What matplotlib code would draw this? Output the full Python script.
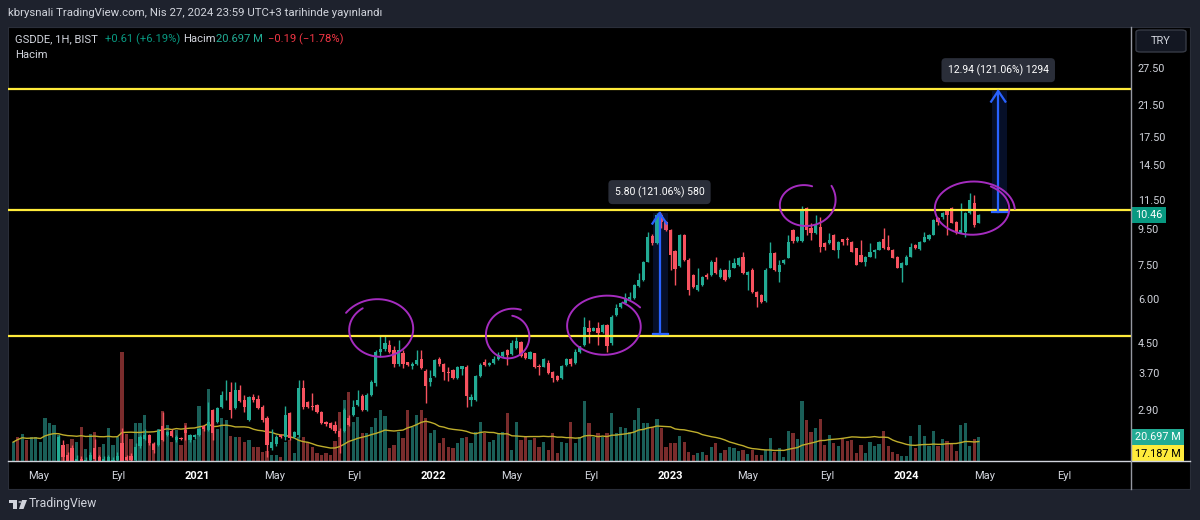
import numpy as np
import pandas as pd
import matplotlib
matplotlib.use("Agg")
import matplotlib.pyplot as plt
import matplotlib.dates as mdates
from matplotlib.patches import Rectangle, FancyBboxPatch, Circle, Polygon
from matplotlib.lines import Line2D
from matplotlib.ticker import FixedLocator, NullLocator, FuncFormatter

W, H = 1200, 520
plt.rcParams["font.family"] = ["Roboto", "DejaVu Sans"]

# ---- weekly GSDDE bars ----
first_bar = "2020-03-23"
opens = [
    1.80, 1.85, 1.78, 1.90, 1.86, 1.95, 1.98, 1.96, 1.97, 2.00,
    2.06, 2.30, 2.15, 2.25, 2.05, 2.10, 2.03, 2.08, 2.25, 2.12,
    2.06, 2.04, 2.04, 2.09, 2.33, 2.12, 2.14, 2.08, 2.28, 2.40,
    2.45, 2.32, 2.30, 2.60, 2.46, 2.52, 2.38, 2.40, 2.54, 2.38,
    2.42, 2.46, 2.60, 2.54, 2.90, 2.68, 2.96, 3.25, 3.27, 2.94,
    3.31, 3.10, 2.72, 3.15, 3.12, 2.96, 2.75, 2.26, 2.31, 2.45,
    2.42, 2.84, 2.43, 2.45, 3.35, 3.05, 2.98, 3.00, 2.86, 2.67,
    2.66, 2.62, 2.53, 2.53, 2.75, 2.81, 3.00, 3.17, 2.90, 3.20,
    3.45, 4.24, 4.32, 4.45, 4.30, 3.92, 4.22, 3.96, 3.88, 3.93,
    4.06, 3.74, 3.49, 3.62, 4.06, 3.92, 3.73, 3.77, 3.58, 3.78,
    3.85, 3.10, 3.10, 3.62, 3.96, 3.90, 3.95, 4.05, 4.13, 4.30,
    4.18, 4.35, 4.52, 4.20, 4.06, 4.20, 3.88, 3.85, 3.95, 3.72,
    3.62, 3.58, 3.90, 4.05, 3.95, 4.24, 4.45, 4.97, 4.88, 4.97,
    4.85, 5.07, 4.50, 5.40, 5.70, 5.85, 6.00, 6.05, 6.55, 6.80,
    7.68, 9.10, 8.70, 10.46, 10.00, 9.48, 8.25, 7.45, 9.17, 7.78,
    7.05, 6.39, 6.60, 7.05, 7.05, 7.68, 6.96, 7.29, 6.96, 7.38,
    7.50, 7.95, 7.05, 7.29, 6.28, 6.18, 5.95, 7.38, 8.15, 7.20,
    7.60, 7.88, 9.48, 8.80, 8.80, 10.93, 9.60, 9.30, 9.65, 8.70,
    8.70, 9.17, 8.31, 8.92, 8.92, 8.77, 8.40, 8.04, 7.68, 7.95,
    8.20, 8.31, 8.92, 8.48, 8.31, 7.95, 7.38, 7.53, 7.95, 8.59,
    8.35, 8.77, 8.90, 9.17, 10.25, 10.30, 10.81, 10.93, 10.00, 9.30,
    9.35, 10.60, 11.30, 9.93,
]
highs = [
    1.88, 1.90, 1.95, 2.00, 1.98, 2.02, 2.04, 2.05, 2.04, 2.05,
    2.46, 2.38, 2.20, 2.30, 2.15, 2.14, 2.12, 2.20, 2.40, 2.16,
    2.14, 2.16, 2.12, 2.20, 2.57, 2.15, 2.18, 2.33, 2.45, 2.55,
    2.48, 2.35, 2.56, 2.86, 2.53, 2.55, 2.45, 2.42, 2.63, 2.47,
    2.48, 2.58, 2.62, 3.05, 2.92, 2.95, 3.28, 3.53, 3.49, 3.47,
    3.42, 3.20, 3.18, 3.22, 3.20, 3.00, 2.78, 2.55, 2.45, 2.47,
    2.97, 2.86, 2.52, 3.53, 3.53, 3.08, 3.24, 3.02, 2.88, 2.70,
    2.68, 2.70, 2.58, 2.93, 2.80, 3.10, 3.31, 3.22, 3.24, 3.53,
    4.30, 4.75, 4.75, 4.60, 4.40, 4.60, 4.30, 3.98, 3.98, 4.30,
    4.30, 3.80, 3.77, 4.05, 4.10, 3.95, 3.85, 3.80, 3.88, 3.88,
    3.90, 3.22, 3.64, 3.95, 4.05, 3.98, 4.12, 4.24, 4.26, 4.33,
    4.60, 4.68, 4.55, 4.24, 4.27, 4.22, 3.92, 4.08, 4.03, 3.75,
    3.65, 3.90, 4.08, 4.08, 4.32, 4.42, 5.35, 5.24, 5.00, 5.18,
    5.10, 5.10, 5.40, 5.80, 5.90, 6.25, 6.30, 6.65, 7.12, 7.72,
    9.35, 9.25, 10.60, 10.60, 10.05, 9.55, 8.30, 9.25, 9.22, 7.85,
    7.10, 7.38, 7.00, 7.12, 7.78, 7.95, 7.35, 7.33, 7.78, 7.85,
    7.92, 8.20, 7.25, 7.35, 6.32, 6.22, 7.38, 8.77, 8.20, 7.78,
    7.82, 9.17, 9.55, 9.10, 11.05, 11.00, 9.90, 10.46, 10.30, 8.75,
    9.30, 9.22, 8.80, 8.95, 9.05, 8.80, 8.42, 8.87, 7.98, 8.70,
    8.34, 8.80, 9.60, 9.17, 8.34, 7.98, 7.65, 8.04, 8.70, 8.62,
    8.80, 9.35, 9.20, 10.15, 10.30, 10.65, 10.85, 11.00, 10.05, 11.30,
    10.65, 12.10, 11.90, 10.50,
]
lows = [
    1.72, 1.74, 1.76, 1.84, 1.83, 1.90, 1.93, 1.92, 1.92, 1.95,
    2.02, 2.05, 2.00, 2.02, 1.98, 1.97, 1.98, 2.04, 2.06, 2.02,
    2.01, 2.00, 2.00, 2.05, 2.03, 2.04, 2.04, 2.05, 2.26, 2.37,
    2.30, 2.18, 2.28, 2.36, 2.44, 2.42, 2.35, 2.37, 2.38, 2.35,
    2.40, 2.44, 2.53, 2.52, 2.38, 2.65, 2.94, 3.10, 2.75, 2.92,
    3.05, 2.85, 2.70, 3.05, 2.92, 2.68, 2.12, 2.22, 2.29, 2.41,
    2.38, 2.38, 2.41, 2.43, 2.92, 2.94, 2.90, 2.84, 2.64, 2.60,
    2.55, 2.49, 2.18, 2.50, 2.60, 2.78, 2.98, 2.88, 2.88, 3.18,
    3.40, 4.10, 4.28, 4.20, 3.85, 3.88, 3.82, 3.86, 3.80, 3.90,
    3.78, 3.04, 3.40, 3.60, 3.87, 3.53, 3.50, 3.55, 3.56, 3.65,
    2.96, 2.98, 3.08, 3.60, 3.88, 3.86, 3.92, 4.02, 4.10, 3.90,
    4.15, 4.32, 4.10, 4.05, 4.04, 3.82, 3.65, 3.83, 3.68, 3.49,
    3.50, 3.55, 3.88, 3.88, 3.93, 4.22, 4.42, 4.50, 4.86, 4.45,
    4.82, 4.24, 4.45, 5.38, 5.68, 5.83, 5.98, 6.02, 6.52, 6.78,
    7.65, 8.60, 8.65, 9.60, 9.40, 7.29, 6.60, 7.40, 7.70, 6.18,
    6.45, 6.35, 6.55, 6.85, 7.00, 7.08, 6.92, 6.78, 6.92, 7.35,
    7.45, 7.10, 6.39, 6.25, 5.72, 5.85, 5.90, 7.35, 7.25, 6.73,
    7.55, 7.85, 8.70, 8.75, 8.75, 9.17, 8.87, 9.25, 8.20, 8.31,
    8.65, 8.28, 7.88, 8.59, 8.59, 8.18, 7.50, 7.65, 7.45, 7.92,
    7.88, 8.28, 8.38, 8.28, 7.85, 7.35, 6.73, 7.50, 7.92, 8.38,
    8.32, 8.74, 8.87, 9.14, 9.79, 10.20, 9.17, 9.90, 9.25, 9.27,
    9.05, 10.55, 9.65, 9.90,
]
closes = [
    1.85, 1.78, 1.90, 1.86, 1.95, 1.98, 2.00, 2.03, 2.02, 2.03,
    2.43, 2.12, 2.05, 2.06, 2.10, 2.03, 2.08, 2.15, 2.10, 2.06,
    2.10, 2.12, 2.09, 2.14, 2.06, 2.08, 2.08, 2.27, 2.42, 2.45,
    2.33, 2.22, 2.52, 2.38, 2.50, 2.44, 2.43, 2.39, 2.49, 2.45,
    2.46, 2.56, 2.56, 2.68, 2.49, 2.93, 3.20, 3.27, 2.90, 3.31,
    3.07, 2.96, 3.15, 3.10, 2.94, 2.72, 2.30, 2.35, 2.43, 2.43,
    2.81, 2.41, 2.50, 3.35, 2.96, 2.96, 2.95, 2.86, 2.66, 2.64,
    2.58, 2.52, 2.43, 2.90, 2.63, 2.96, 3.10, 2.90, 3.20, 3.49,
    4.24, 4.32, 4.50, 4.24, 3.92, 4.30, 3.92, 3.90, 3.93, 4.03,
    3.82, 3.38, 3.58, 4.03, 3.92, 3.72, 3.70, 3.58, 3.85, 3.86,
    3.17, 3.15, 3.62, 3.90, 3.90, 3.95, 4.05, 4.16, 4.23, 4.16,
    4.50, 4.55, 4.12, 4.08, 4.24, 3.85, 3.84, 4.06, 3.70, 3.58,
    3.53, 3.87, 4.06, 3.92, 4.24, 4.40, 5.00, 4.85, 4.97, 4.80,
    5.07, 4.40, 5.35, 5.67, 5.85, 6.05, 6.10, 6.60, 6.82, 7.68,
    9.05, 8.70, 10.46, 10.00, 9.48, 8.04, 7.32, 9.17, 7.78, 6.39,
    6.50, 6.60, 6.96, 6.96, 7.68, 7.12, 7.29, 6.82, 7.29, 7.60,
    7.88, 7.12, 7.20, 6.28, 6.10, 5.90, 7.29, 8.15, 7.29, 7.53,
    7.78, 8.77, 8.80, 9.05, 10.81, 9.48, 9.30, 9.79, 8.45, 8.48,
    8.87, 8.31, 8.77, 8.77, 8.87, 8.20, 7.53, 7.68, 7.95, 8.20,
    8.31, 8.77, 8.40, 8.31, 7.88, 7.38, 7.62, 7.95, 8.48, 8.40,
    8.77, 9.05, 9.17, 10.12, 10.00, 10.60, 10.46, 9.93, 9.30, 9.48,
    10.60, 11.55, 9.79, 10.46,
]
# volume, millions
volumes = [
    16.3, 20.6, 23.2, 18.1, 20.6, 20.6, 16.3, 37.0, 32.7, 31.0,
    22.4, 11.2, 14.6, 18.9, 16.3, 29.2, 10.3, 23.2, 24.9, 12.0,
    14.6, 28.4, 13.8, 20.6, 93.7, 23.2, 18.9, 32.7, 32.7, 39.6,
    20.6, 15.5, 27.5, 43.0, 31.0, 16.3, 26.7, 13.8, 32.7, 20.6,
    18.1, 47.3, 27.5, 61.9, 43.0, 27.5, 37.0, 35.3, 21.5, 20.6,
    20.6, 16.3, 18.1, 12.0, 12.0, 7.7, 8.6, 5.2, 5.2, 3.4,
    16.3, 18.1, 6.9, 20.6, 20.6, 16.3, 12.0, 6.9, 5.2, 6.9,
    5.2, 17.2, 42.1, 52.5, 59.3, 33.5, 37.8, 24.1, 24.1, 29.2,
    37.0, 43.9, 38.7, 11.2, 13.8, 24.9, 19.8, 43.9, 29.2, 39.6,
    43.9, 37.0, 24.1, 26.7, 15.5, 19.8, 12.0, 11.2, 15.5, 19.8,
    20.6, 15.5, 24.9, 33.5, 24.1, 16.3, 18.1, 24.1, 24.9, 41.3,
    9.5, 33.5, 18.1, 20.6, 18.1, 19.8, 12.0, 16.3, 9.5, 24.1,
    6.9, 16.3, 15.5, 33.5, 15.5, 20.6, 51.6, 32.7, 20.6, 24.1,
    20.6, 24.1, 41.3, 24.1, 29.2, 28.4, 24.9, 35.3, 45.6, 32.7,
    32.7, 29.2, 36.1, 28.4, 12.0, 15.5, 15.5, 21.5, 16.3, 7.7,
    5.2, 6.9, 7.7, 5.2, 12.0, 15.5, 6.9, 9.5, 12.0, 11.2,
    8.6, 9.5, 6.0, 9.5, 5.2, 5.2, 9.5, 19.8, 7.7, 11.2,
    3.4, 25.8, 24.1, 18.9, 51.6, 35.3, 24.9, 28.4, 36.1, 13.8,
    22.4, 15.5, 12.9, 18.9, 17.2, 18.1, 6.9, 13.8, 6.9, 16.3,
    12.9, 14.6, 25.8, 12.9, 7.7, 6.0, 4.3, 4.3, 21.5, 11.2,
    31.0, 21.5, 12.9, 25.8, 12.9, 18.9, 17.2, 15.5, 8.6, 31.0,
    32.7, 12.9, 18.9, 20.697,
]
vol_ma_value = 17.187

levels = [4.72, 10.80, 23.90]
price_ticks = [2.90, 3.70, 4.50, 6.00, 7.50, 9.50, 11.50, 14.50, 17.50, 21.50, 27.50]
date_ticks = ["2020-05-01", "2020-09-01", "2021-01-01", "2021-05-01", "2021-09-01",
              "2022-01-01", "2022-05-01", "2022-09-01", "2023-01-01", "2023-05-01",
              "2023-09-01", "2024-01-01", "2024-05-01", "2024-09-01"]
date_labels = ["May", "Eyl", "2021", "May", "Eyl", "2022", "May", "Eyl",
               "2023", "May", "Eyl", "2024", "May", "Eyl"]

# price-range tools: rect start, rect end, arrow date, from, to, label
measures = [
    ("2022-12-06", "2022-12-29", "2022-12-16", 4.79, 10.59, "5.80 (121.06%) 580"),
    ("2024-05-13", "2024-06-05", "2024-05-22", 10.69, 23.63, "12.94 (121.06%) 1294"),
]
# hand-drawn circles: centre date, centre price, half width (days), half height (ln),
# start angle, sweep, radius factor at start / end
circles = [
    ("2021-10-11", 4.91, 49, 0.178, 150, -385, 1.25, 0.97),
    ("2022-04-27", 4.69, 32, 0.140, 80, -375, 1.00, 1.40),
    ("2022-09-22", 5.01, 56, 0.184, 60, -385, 1.00, 1.20),
    ("2023-07-27", 11.17, 37, 0.130, 70, 330, 1.00, 1.50),
    ("2024-04-12", 10.88, 57, 0.170, 60, -420, 1.00, 1.15),
]

UP, DN = "#22ab94", "#f7525f"
VUP, VDN = "#1a5f58", "#7a2c2c"
TXT = "#d1d4dc"
BLUE = "#2962ff"
PURPLE = "#a52cbf"
YELLOW = "#ffeb3b"

def fx(x):
    return x / W

def fy(y):
    return 1 - y / H

fig = plt.figure(figsize=(W / 100, H / 100), dpi=100, facecolor="#1e222d")
fig.add_artist(Rectangle((fx(8), fy(489)), (1190 - 8) / W, (489 - 27) / H,
                         transform=fig.transFigure, fc="black", ec="#2a2e39",
                         lw=0.8, zorder=-5))

rect = [fx(8), fy(461), (1131 - 8) / W, (461 - 27) / H]
ax2 = fig.add_axes(rect)
ax = fig.add_axes(rect)
ax.set_zorder(ax2.get_zorder() + 1)
for a in (ax, ax2):
    a.patch.set_visible(False)
    for s in a.spines.values():
        s.set_visible(False)

dates = pd.date_range(first_bar, periods=len(closes), freq="7D")
x = mdates.date2num(dates)
o, h, l, c = map(np.array, (opens, highs, lows, closes))
up = c >= o

# volume + MA
v = np.array(volumes)
ax2.bar(x, v, width=5.0, color=np.where(up, VUP, VDN), lw=0)
ma = pd.Series(v).rolling(20, min_periods=1).mean()
ax2.plot(x, ma, color="#bfae2c", lw=1.0)
ax2.set_ylim(0, 374)
ax2.set_yticks([])
ax2.set_xticks([])

# candles
ax.set_yscale("log")
col = np.where(up, UP, DN)
ax.vlines(x, l, h, colors=col, lw=1.0)
body = np.maximum(np.abs(c - o), 0.006 * c)
ax.bar(x, body, bottom=np.minimum(o, c), width=5.0, color=col, lw=0)

for lv in levels:
    ax.axhline(lv, color=YELLOW, lw=1.6)

for d0, d1, dm, p0, p1, label in measures:
    x0, x1, xm = mdates.date2num(pd.to_datetime([d0, d1, dm]))
    ax.fill_between([x0, x1], p0, p1, color=BLUE, alpha=0.16, lw=0)
    ax.plot([xm, xm], [p0, p1], color=BLUE, lw=1.6)
    ax.plot([x0, x1], [p0, p0], color=BLUE, lw=1.6)
    ax.plot([xm - 11, xm, xm + 11], [p1 * np.exp(-0.07), p1, p1 * np.exp(-0.07)],
            color=BLUE, lw=1.6)
    ax.annotate(label, xy=(xm, p1), xytext=(0, 15), textcoords="offset points",
                ha="center", va="center", fontsize=7.5, color="white",
                bbox=dict(boxstyle="round,pad=0.6,rounding_size=0.4", fc="#2a2e39", ec="none"))

t = np.linspace(0, 1, 400)
for cd, cp, hw, hh, a0, sweep, r0, r1 in circles:
    th = np.radians(a0 + sweep * t)
    r = 1 + (r0 - 1) * (1 - t) ** 4 + (r1 - 1) * t ** 4
    cx = mdates.date2num(pd.Timestamp(cd))
    ax.plot(cx + hw * r * np.cos(th), cp * np.exp(hh * r * np.sin(th)),
            color=PURPLE, lw=1.4, solid_capstyle="round")

ax.set_xlim(mdates.date2num(pd.Timestamp("2020-03-15")), mdates.date2num(pd.Timestamp("2024-12-13")))
ax.set_ylim(2.07, 36.0)
ax2.set_xlim(ax.get_xlim())

ax.yaxis.tick_right()
ax.yaxis.set_major_locator(FixedLocator(price_ticks))
ax.yaxis.set_minor_locator(NullLocator())
ax.yaxis.set_major_formatter(FuncFormatter(lambda val, pos: f"{val:.2f}"))
ax.tick_params(axis="y", length=0, pad=5, labelsize=7.8, labelcolor=TXT)

ax.set_xticks(mdates.date2num(pd.to_datetime(date_ticks)))
ax.set_xticklabels(date_labels)
ax.tick_params(axis="x", length=0, pad=7, labelsize=8, labelcolor=TXT)
for lbl in ax.get_xticklabels():
    if lbl.get_text().isdigit():
        lbl.set_fontweight("bold")
        lbl.set_color("white")

# last price / volume labels on the scale
blend = ("axes fraction", "data")
ax.annotate(f"{closes[-1]:.2f}", xy=(1, closes[-1]), xycoords=blend, xytext=(3, 0),
            textcoords="offset points", ha="left", va="center", fontsize=7.8, color="white",
            annotation_clip=False,
            bbox=dict(boxstyle="square,pad=0.3", fc="#089981", ec="none"))
ax2.annotate(f"{volumes[-1]:.3f} M", xy=(1, volumes[-1]), xycoords=blend, xytext=(3, 0),
             textcoords="offset points", ha="left", va="center", fontsize=7.8, color="white",
             annotation_clip=False,
             bbox=dict(boxstyle="square,pad=0.3", fc=UP, ec="none"))
ax2.annotate(f"{vol_ma_value:.3f} M", xy=(1, volumes[-1]), xycoords=blend, xytext=(3, -12),
             textcoords="offset points", ha="left", va="center", fontsize=7.8, color="black",
             annotation_clip=False,
             bbox=dict(boxstyle="square,pad=0.3", fc=YELLOW, ec="none"))

# frame lines
fig.add_artist(Line2D([fx(8), fx(1190)], [fy(461), fy(461)], color=TXT, lw=1.0))
fig.add_artist(Line2D([fx(1131), fx(1131)], [fy(27), fy(489)], color="#9598a1", lw=1.0))

# TRY box
fig.add_artist(FancyBboxPatch((fx(1136), fy(52)), 50 / W, 22 / H,
                              boxstyle="round,pad=0,rounding_size=0.004",
                              transform=fig.transFigure, fc="#131722", ec="#363a45", lw=1))
fig.text(fx(1161), fy(41), "TRY", ha="center", va="center", fontsize=8, color=TXT)

# header + legend
fig.text(fx(8), fy(13), "kbrysnali TradingView.com, Nis 27, 2024 23:59 UTC+3 tarihinde yayınlandı",
         ha="left", va="center", fontsize=8.2, color=TXT)
legend = [(15, "GSDDE, 1H, BIST", TXT), (105, "+0.61 (+6.19%)", "#089981"),
          (183, "Hacim", TXT), (216, "20.697 M", UP), (268, "\u22120.19 (\u22121.78%)", "#f23645")]
for lx, s, cc in legend:
    fig.text(fx(lx), fy(39), s, ha="left", va="center", fontsize=8.1, color=cc)
fig.text(fx(15), fy(55), "Hacim", ha="left", va="center", fontsize=8.1, color=TXT)

# footer logo
fig.add_artist(Rectangle((fx(9), fy(503)), 8 / W, 3 / H, transform=fig.transFigure, fc=TXT, ec="none"))
fig.add_artist(Rectangle((fx(13), fy(509)), 4 / W, 9 / H, transform=fig.transFigure, fc=TXT, ec="none"))
fig.add_artist(Circle((fx(20), fy(502)), 1.6 / W, transform=fig.transFigure, fc=TXT, ec="none"))
fig.add_artist(Polygon([(fx(22), fy(500)), (fx(27), fy(500)), (fx(23.5), fy(509)), (fx(19), fy(509))],
                       closed=True, transform=fig.transFigure, fc=TXT, ec="none"))
fig.text(fx(29), fy(504), "TradingView", ha="left", va="center", fontsize=8.8, color=TXT)

fig.savefig("out.png", dpi=100, facecolor=fig.get_facecolor())
